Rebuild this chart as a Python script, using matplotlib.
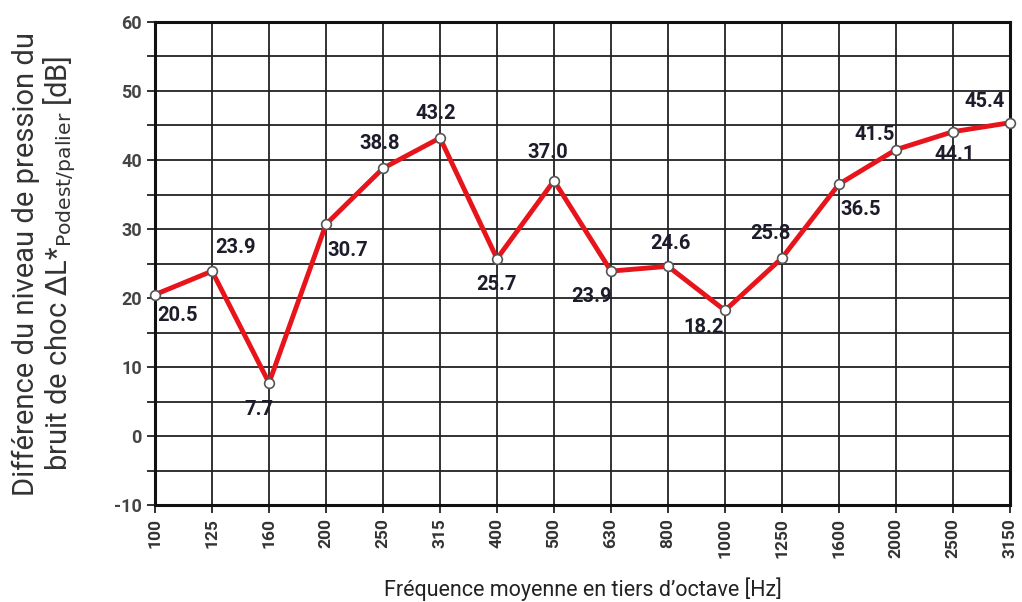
import matplotlib.pyplot as plt

plt.rcParams['font.family'] = ['Roboto', 'DejaVu Sans']

# third-octave frequency bands and measured difference
freqs = ['100', '125', '160', '200', '250', '315', '400', '500',
         '630', '800', '1000', '1250', '1600', '2000', '2500', '3150']
values = [20.5, 23.9, 7.7, 30.7, 38.8, 43.2, 25.7, 37.0,
          23.9, 24.6, 18.2, 25.8, 36.5, 41.5, 44.1, 45.4]
labels = ['20.5', '23.9', '7.7', '30.7', '38.8', '43.2', '25.7', '37.0',
          '23.9', '24.6', '18.2', '25.8', '36.5', '41.5', '44.1', '45.4']

# label offsets in pixels (placement only)
offsets = [(22, -21), (23, 24), (-10, -27), (22, -26), (-3, 25), (-4, 24),
           (0, -26), (-6, 28), (-19, -25), (2, 23), (-21, -17), (-12, 25),
           (22, -25), (-21, 15), (2, -23), (-25, 21)]

fig = plt.figure(figsize=(10.22, 6.02), dpi=100)
ax = fig.add_axes([0.1517, 0.161, 0.8365, 0.8025])

x = list(range(len(freqs)))
ax.plot(x, values, color='#e8141b', lw=3.5, zorder=3, clip_on=False)
ax.plot(x, values, 'o', ms=7, mfc='white', mec='#555555', mew=1.2, zorder=4,
        clip_on=False)

for i, (v, t) in enumerate(zip(values, labels)):
    ax.annotate(t, (i, v), xytext=offsets[i], textcoords='offset pixels',
                ha='center', va='center', fontsize=14.5, fontweight='bold',
                color='#1c1c2a', zorder=5)

ax.set_xlim(0, len(freqs) - 1)
ax.set_ylim(-10, 60)
ax.set_xticks(x)
ax.set_xticklabels(freqs, rotation=90, fontsize=12.5, fontweight='bold', color='#333333')
ax.set_yticks(range(-10, 61, 5))
ax.set_yticklabels([str(v) if v % 10 == 0 else '' for v in range(-10, 61, 5)],
                   fontsize=13, fontweight='bold', color='#444444')
ax.grid(True, color='#222222', lw=1.3)
ax.tick_params(direction='out', length=6, width=1.3, color='#222222')
for s in ax.spines.values():
    s.set_linewidth(2.2)
    s.set_color('#111111')

ax.set_xlabel('Fréquence moyenne en tiers d\u2019octave [Hz]', fontsize=15.5,
              color='#222222', labelpad=14)
ax.set_ylabel('Différence du niveau de pression du\n'
              r'bruit de choc $\Delta$L*$_{\mathrm{Podest/palier}}$ [dB]',
              fontsize=21, color='#333333', labelpad=26, linespacing=1.05)

fig.savefig('out.png', dpi=100)
